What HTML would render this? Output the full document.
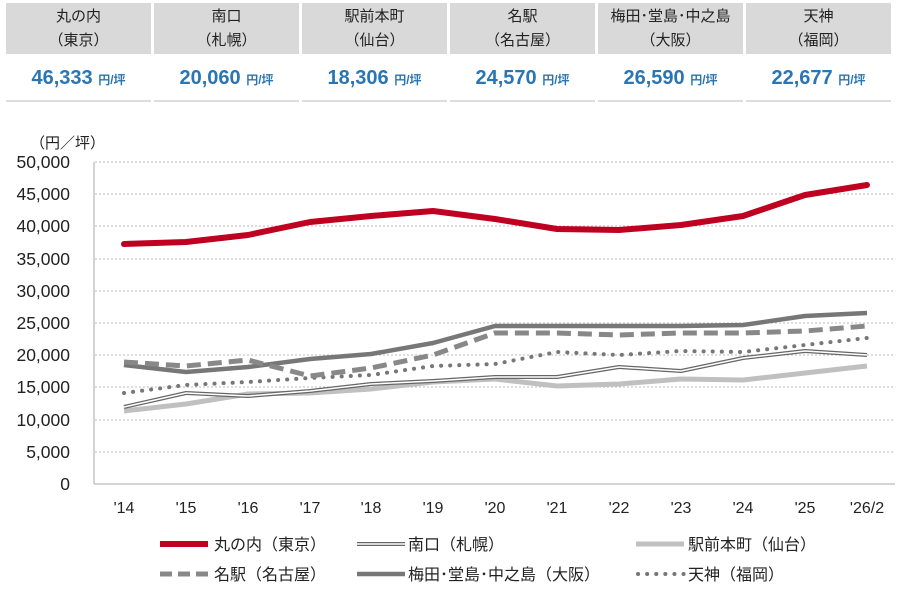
<!DOCTYPE html>
<html><head><meta charset="utf-8"><style>
body{margin:0;width:900px;height:591px;background:#fff;font-family:"Liberation Sans","Noto Sans CJK JP",sans-serif;overflow:hidden;position:relative}
.hd{position:absolute;top:3px;left:6px;display:flex;gap:3px}
.c{width:145px}
.t{background:#d9d9d9;height:51px;text-align:center;font-size:15px;line-height:24px;padding-top:2px;box-sizing:border-box;color:#222}
.v{height:44px;margin-top:2px;text-align:center;line-height:44px;color:#2a75b3;font-weight:bold;font-size:20px;border-bottom:2px solid #ddd}
.v small{font-size:12px}
</style></head><body>
<div class="hd">
<div class="c"><div class="t">丸の内<br>（東京）</div><div class="v">46,333 <small>円/坪</small></div></div>
<div class="c"><div class="t">南口<br>（札幌）</div><div class="v">20,060 <small>円/坪</small></div></div>
<div class="c"><div class="t">駅前本町<br>（仙台）</div><div class="v">18,306 <small>円/坪</small></div></div>
<div class="c"><div class="t">名駅<br>（名古屋）</div><div class="v">24,570 <small>円/坪</small></div></div>
<div class="c"><div class="t">梅田･堂島･中之島<br>（大阪）</div><div class="v">26,590 <small>円/坪</small></div></div>
<div class="c"><div class="t">天神<br>（福岡）</div><div class="v">22,677 <small>円/坪</small></div></div>
</div>
<svg width="900" height="591" style="position:absolute;left:0;top:0" font-family="Liberation Sans,Noto Sans CJK JP,sans-serif">
<g stroke="#bbb" stroke-dasharray="2,2" stroke-width="1">
<line x1="95" x2="895" y1="162" y2="162"/><line x1="95" x2="895" y1="194" y2="194"/><line x1="95" x2="895" y1="226" y2="226"/><line x1="95" x2="895" y1="259" y2="259"/><line x1="95" x2="895" y1="291" y2="291"/><line x1="95" x2="895" y1="323" y2="323"/><line x1="95" x2="895" y1="355" y2="355"/><line x1="95" x2="895" y1="387" y2="387"/><line x1="95" x2="895" y1="420" y2="420"/><line x1="95" x2="895" y1="452" y2="452"/>
</g>
<line x1="94" y1="162" x2="94" y2="484" stroke="#aaa"/><line x1="94" y1="484" x2="895" y2="484" stroke="#aaa"/>
<g font-size="17.5" fill="#222" text-anchor="end">
<text x="70" y="168">50,000</text><text x="70" y="200">45,000</text><text x="70" y="232">40,000</text><text x="70" y="265">35,000</text><text x="70" y="297">30,000</text><text x="70" y="329">25,000</text><text x="70" y="361">20,000</text><text x="70" y="393">15,000</text><text x="70" y="426">10,000</text><text x="70" y="458">5,000</text><text x="70" y="490">0</text>
</g>
<text x="30" y="148" font-size="15" fill="#222">（円／坪）</text>
<g font-size="16" fill="#222" text-anchor="middle">
<text x="124" y="513">'14</text><text x="186" y="513">'15</text><text x="248" y="513">'16</text><text x="310" y="513">'17</text><text x="371" y="513">'18</text><text x="433" y="513">'19</text><text x="495" y="513">'20</text><text x="557" y="513">'21</text><text x="619" y="513">'22</text><text x="681" y="513">'23</text><text x="743" y="513">'24</text><text x="805" y="513">'25</text><text x="867" y="513">'26/2</text>
</g>
<g fill="none" stroke-linejoin="round">
<polyline stroke="#c0c0c0" stroke-width="5" points="124,411 186,404 248,394 310,393 371,389 433,382 495,379 557,386 619,384 681,379 743,380 805,373 867,366"/>
<polyline stroke="#666" stroke-width="4" points="124,407 186,393 248,396 310,391 371,384 433,381 495,377 557,377 619,367 681,371 743,358 805,351 867,355"/>
<polyline stroke="#fff" stroke-width="1.5" points="124,407 186,393 248,396 310,391 371,384 433,381 495,377 557,377 619,367 681,371 743,358 805,351 867,355"/>
<polyline stroke="#777" stroke-width="4" stroke-dasharray="0.1,9" stroke-linecap="round" points="124,393 186,385 248,382 310,378 371,375 433,366 495,364 557,352 619,355 681,351 743,352 805,345 867,338"/>
<polyline stroke="#777" stroke-width="4.5" points="124,365 186,372 248,367 310,359 371,354 433,343 495,326 557,326 619,326 681,326 743,325 805,316 867,313"/>
<polyline stroke="#888" stroke-width="5" stroke-dasharray="14,7" points="124,362 186,366 248,360 310,376 371,368 433,355 495,333 557,333 619,335 681,333 743,333 805,331 867,326"/>
<polyline stroke="#c00020" stroke-width="6" stroke-linecap="round" points="124,244 186,242 248,235 310,222 371,216 433,211 495,219 557,229 619,230 681,225 743,216 805,195 867,185"/>
</g>
<g font-size="16" fill="#222">
<line x1="160" y1="544" x2="208" y2="544" stroke="#c00020" stroke-width="6"/><text x="214" y="550">丸の内（東京）</text>
<line x1="357" y1="544" x2="405" y2="544" stroke="#666" stroke-width="4"/><line x1="357" y1="544" x2="405" y2="544" stroke="#fff" stroke-width="1.5"/><text x="408" y="550">南口（札幌）</text>
<line x1="636" y1="544" x2="684" y2="544" stroke="#c0c0c0" stroke-width="5"/><text x="688" y="550">駅前本町（仙台）</text>
<line x1="160" y1="574" x2="208" y2="574" stroke="#888" stroke-width="5" stroke-dasharray="12,6"/><text x="214" y="580">名駅（名古屋）</text>
<line x1="357" y1="574" x2="405" y2="574" stroke="#777" stroke-width="4.5"/><text x="408" y="580">梅田･堂島･中之島（大阪）</text>
<line x1="638" y1="574" x2="684" y2="574" stroke="#777" stroke-width="4" stroke-dasharray="0.1,9" stroke-linecap="round"/><text x="688" y="580">天神（福岡）</text>
</g>
</svg>
</body></html>
